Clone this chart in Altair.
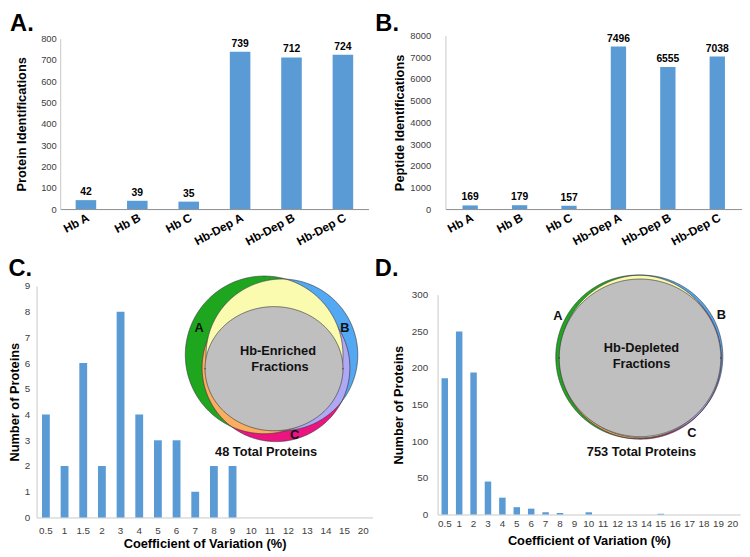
import altair as alt
import numpy as np
import pandas as pd

FONT = "Liberation Sans"
BAR = "#5B9BD5"

# ---------------- data ----------------
samples = ["Hb A", "Hb B", "Hb C", "Hb-Dep A", "Hb-Dep B", "Hb-Dep C"]
protein_ids = [42, 39, 35, 739, 712, 724]
peptide_ids = [169, 179, 157, 7496, 6555, 7038]

cv_bins_enriched = ["0.5", "1", "1.5", "2", "3", "4", "5", "6", "7", "8", "9",
                    "10", "11", "12", "13", "14", "15", "20"]
cv_counts_enriched = [4, 2, 6, 2, 8, 4, 3, 3, 1, 2, 2, 0, 0, 0, 0, 0, 0, 0]

cv_bins_depleted = ["0.5", "1", "2", "3", "4", "5", "6", "7", "8", "9", "10",
                    "11", "12", "13", "14", "15", "16", "17", "18", "19", "20"]
cv_counts_depleted = [186, 250, 194, 45, 23, 10, 8, 3, 2, 0, 3,
                      0, 0, 0, 0, 1, 0, 0, 0, 0, 0]

# Venn geometry (circle centre x, centre y, radius) in the plot's own units
venn_enriched = {"A": (231, 70, 80), "B": (249, 70, 77), "C": (243, 83, 75)}
venn_enriched_core = (241, 84, 70, 63)
venn_enriched_text = [("A", 165, 43), ("B", 313, 43), ("C", 262, 151),
                      ("Hb-Enriched", 245, 66), ("Fractions", 247, 82),
                      ("48 Total Proteins", 233, 169)]

venn_depleted = {"A": (203, 63, 83), "B": (207, 62.5, 82.5), "C": (206, 64.5, 82)}
venn_depleted_core = (205.5, 64, 82, 80)
venn_depleted_text = [("A", 122, 22), ("B", 288, 21), ("C", 258, 140),
                      ("Hb-Depleted", 207, 54), ("Fractions", 207, 70),
                      ("753 Total Proteins", 207, 160)]

REGION_COLORS = {"A": "#1EA71E", "B": "#52A8F2", "C": "#EB1481",
                 "AB": "#FBFBB0", "AC": "#FAAE60", "BC": "#AEA9F5"}
CORE_COLOR = "#BFBFBF"
EDGE = "#3C3C3C"


# ---------------- geometry helpers ----------------
def circle_x_hits(c1, c2):
    (x1, y1, r1), (x2, y2, r2) = c1, c2
    d = float(np.hypot(x2 - x1, y2 - y1))
    if d == 0 or d > r1 + r2 or d < abs(r1 - r2):
        return []
    a = (r1 * r1 - r2 * r2 + d * d) / (2 * d)
    h = np.sqrt(max(r1 * r1 - a * a, 0.0))
    mx = x1 + a * (x2 - x1) / d
    ox = h * (y2 - y1) / d
    return [mx + ox, mx - ox]


def region_frame(circles):
    t = np.linspace(0, np.pi, 361)
    xs = [c[0] + c[2] * np.cos(t) for c in circles]
    for i in range(len(circles)):
        for j in range(i + 1, len(circles)):
            xs.append(np.array(circle_x_hits(circles[i], circles[j]), dtype=float))
    x = np.unique(np.concatenate(xs))
    top = np.full(x.shape, -np.inf)
    bot = np.full(x.shape, np.inf)
    ok = np.ones(x.shape, bool)
    for cx, cy, r in circles:
        u = (x - cx) / r
        ok &= np.abs(u) <= 1 + 1e-9
        hgt = r * np.sqrt(np.clip(1 - u * u, 0, None))
        top = np.maximum(top, cy - hgt)
        bot = np.minimum(bot, cy + hgt)
    ok &= bot >= top - 0.05
    x, top, bot = x[ok], top[ok], bot[ok]
    bot = np.maximum(bot, top)
    return pd.DataFrame({"x": x.round(2), "y": top.round(2), "y2": bot.round(2)})


def ellipse_frame(cx, cy, rx, ry):
    t = np.linspace(0, np.pi, 361)
    x = cx + rx * np.cos(t)
    h = ry * np.sin(t)
    return pd.DataFrame({"x": x.round(2), "y": (cy - h).round(2), "y2": (cy + h).round(2)})


def venn_layers(circles, core, texts, x0, y0, w, h):
    # (x0, y0): where the plot rectangle starts inside the view
    xs = alt.Scale(domain=[-x0, w - x0], nice=False, zero=False)
    ys = alt.Scale(domain=[-y0, h - y0], nice=False, zero=False, reverse=True)

    def enc(ch):
        return ch.encode(
            x=alt.X("x:Q", scale=xs, axis=None),
            y=alt.Y("y:Q", scale=ys, axis=None),
            y2="y2:Q",
        )

    def fill(name):
        df = region_frame([circles[k] for k in name])
        return enc(alt.Chart(df).mark_area(color=REGION_COLORS[name], opacity=1))

    def outline(name):
        df = region_frame([circles[name]])
        return enc(alt.Chart(df).mark_area(fillOpacity=0, stroke=EDGE, strokeWidth=0.7))

    layers = [fill("A"), fill("B"), fill("C"), fill("AC"), fill("BC"), outline("C"),
              fill("AB"), outline("A"), outline("B")]
    layers.append(enc(alt.Chart(ellipse_frame(*core)).mark_area(
        color=CORE_COLOR, opacity=1, stroke=EDGE, strokeWidth=0.7)))
    tdf = pd.DataFrame(texts, columns=["label", "x", "y"])
    layers.append(alt.Chart(tdf).mark_text(fontWeight="bold", fontSize=13, font=FONT,
                                           color="#111111").encode(
        x=alt.X("x:Q", scale=xs, axis=None),
        y=alt.Y("y:Q", scale=ys, axis=None),
        text="label:N"))
    return layers


def y_axis(values, title, label_pad, title_pad, label_size, offset):
    return alt.Axis(values=values, title=title, format="d", grid=False, ticks=False,
                    labelOverlap=False, domainColor="#C8C8C8", labelColor="#404040",
                    labelFontSize=label_size, labelPadding=label_pad, titleFontSize=13,
                    titleFontWeight="bold", titleColor="black", titlePadding=title_pad,
                    offset=offset)


def panel_title(letter, dx, offset):
    return alt.TitleParams(letter, anchor="start", fontSize=24, fontWeight="bold",
                           font=FONT, color="black", dx=dx, offset=offset)


def id_panel(values, ymax, ystep, ytitle, letter, x0, y0, w, h, pad_inner,
             label_pad, title_pad, tdx, toff):
    """x0 / y0: inset of the plot rectangle inside the view (for aligning panels)."""
    df = pd.DataFrame({"sample": samples, "n": values})
    x = alt.X("sample:N", sort=samples, title=None,
              scale=alt.Scale(paddingInner=pad_inner, paddingOuter=pad_inner / 2,
                              range=[x0, x0 + w]),
              axis=alt.Axis(labelAngle=-28, labelFontWeight="bold", labelFontSize=12,
                            labelColor="black", labelPadding=3, ticks=False,
                            labelOverlap=False, domainColor="#8C8C8C"))
    y = alt.Y("n:Q", scale=alt.Scale(domain=[0, ymax], nice=False, range=[y0 + h, y0]),
              axis=y_axis(list(range(0, ymax + 1, ystep)), ytitle, label_pad, title_pad,
                          9.5, -x0))
    bars = alt.Chart(df).mark_bar(color=BAR).encode(x=x, y=y)
    vals = alt.Chart(df).mark_text(dy=-8, fontWeight="bold", fontSize=10.5, font=FONT,
                                   color="black").encode(
        x=x, y=y, text=alt.Text("n:Q", format="d"))
    return alt.layer(bars, vals).properties(width=x0 + w, height=y0 + h,
                                            title=panel_title(letter, tdx, toff))


def cv_panel(bins, counts, ymax, yvalues, letter, x0, y0, w, h, pad_inner, circles, core,
             texts, label_pad, title_pad, x_label_pad, x_title_pad, tdx, toff):
    df = pd.DataFrame({"cv": bins, "n": counts})
    bars = alt.Chart(df).mark_bar(color=BAR).encode(
        x=alt.X("cv:N", sort=bins, title="Coefficient of Variation (%)",
                scale=alt.Scale(paddingInner=pad_inner, paddingOuter=pad_inner / 2,
                                range=[x0, x0 + w]),
                axis=alt.Axis(labelAngle=0, ticks=False, domainColor="#C8C8C8",
                              labelOverlap=False, labelColor="#404040", labelFontSize=10,
                              labelPadding=x_label_pad, titleFontSize=13,
                              titleFontWeight="bold", titleColor="black",
                              titlePadding=x_title_pad)),
        y=alt.Y("n:Q", scale=alt.Scale(domain=[0, ymax], nice=False, range=[y0 + h, y0]),
                axis=y_axis(yvalues, "Number of Proteins", label_pad, title_pad, 10, -x0)),
    )
    layers = [bars] + venn_layers(circles, core, texts, x0, y0, x0 + w, y0 + h)
    return alt.layer(*layers).resolve_scale(x="independent", y="independent").properties(
        width=x0 + w, height=y0 + h, title=panel_title(letter, tdx, toff))


# A's plot starts 24px right of C's, and 3px lower than B's
pA = id_panel(protein_ids, 800, 100, "Protein Identifications", "A.", 24, 3, 313, 173, 0.6,
              4, 12, -6, -2)
pB = id_panel(peptide_ids, 8000, 1000, "Peptide Identifications", "B.", 0, 0, 301, 176, 0.69,
              15, 3, -19, -5)
pC = cv_panel(cv_bins_enriched, cv_counts_enriched, 9, list(range(0, 10)), "C.", 0, 0, 341, 235,
              0.58, venn_enriched, venn_enriched_core, venn_enriched_text,
              7, 3, 8, 3, 0, -6)
pD = cv_panel(cv_bins_depleted, cv_counts_depleted, 300, list(range(0, 301, 50)), "D.",
              0, 9, 307, 223,
              0.55, venn_depleted, venn_depleted_core, venn_depleted_text,
              10, 6, 4, 6, -18, -7)

row1 = alt.hconcat(pA, pB, spacing=6)
row2 = alt.hconcat(pC, pD, spacing=2)
chart = alt.vconcat(row1, row2, spacing=9).properties(
    padding=0).configure(font=FONT).configure_view(stroke=None).configure_axis(
    labelFont=FONT, titleFont=FONT)

chart.save("out.html", embed_options={"renderer": "svg", "actions": False})
